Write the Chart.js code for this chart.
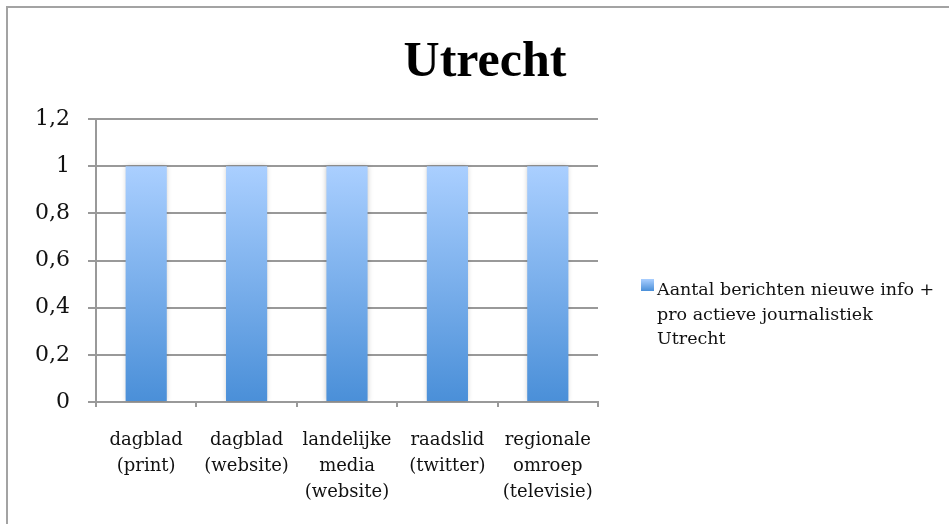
<!DOCTYPE html>
<html>
<head>
<meta charset="utf-8">
<script src="https://cdn.jsdelivr.net/npm/chart.js@4/dist/chart.umd.min.js"></script>
<style>
  html, body { margin: 0; padding: 0; background: #fff; }
  #wrap { width: 949px; height: 524px; position: relative; }
</style>
</head>
<body>
<div id="wrap"><canvas id="c" width="949" height="524"></canvas></div>
<script>
const chartTitle = 'Utrecht';
const categories = [
  ['dagblad', '(print)'],
  ['dagblad', '(website)'],
  ['landelijke', 'media', '(website)'],
  ['raadslid', '(twitter)'],
  ['regionale', 'omroep', '(televisie)']
];
const seriesName = 'Aantal berichten nieuwe info + pro actieve journalistiek Utrecht';
const seriesLegendLines = ['Aantal berichten nieuwe info +', 'pro actieve journalistiek', 'Utrecht'];
const seriesValues = [1, 1, 1, 1, 1];
const yMin = 0, yMax = 1.2, yStep = 0.2;

const SERIF = '"DejaVu Serif", "Liberation Serif", serif';
const TITLE_FONT = 'bold 50px "Liberation Serif", serif';
const GRID = '#999999';
const TOP_COL = '#aacfff';
const BOT_COL = '#4a8fd8';

const decor = {
  id: 'decor',
  beforeDraw(chart) {
    const ctx = chart.ctx;
    ctx.save();
    ctx.fillStyle = '#fff';
    ctx.fillRect(0, 0, chart.width, chart.height);
    ctx.strokeStyle = '#a3a3a3';
    ctx.lineWidth = 2;
    ctx.beginPath();
    ctx.moveTo(7, chart.height);
    ctx.lineTo(7, 7);
    ctx.lineTo(chart.width, 7);
    ctx.stroke();
    ctx.restore();
  },
  beforeDatasetsDraw(chart) {
    chart.ctx.save();
    chart.ctx.shadowColor = 'rgba(0,0,0,0.22)';
    chart.ctx.shadowBlur = 5;
  },
  afterDatasetsDraw(chart) {
    chart.ctx.restore();
  },
  afterDraw(chart) {
    const ctx = chart.ctx;
    ctx.save();
    // title
    ctx.font = TITLE_FONT;
    ctx.fillStyle = '#000';
    ctx.textAlign = 'center';
    ctx.textBaseline = 'alphabetic';
    ctx.fillText(chartTitle, 485, 76);
    // legend
    const bx = 641, by = 279, bw = 13, bh = 12;
    const g = ctx.createLinearGradient(0, by, 0, by + bh);
    g.addColorStop(0, TOP_COL);
    g.addColorStop(1, BOT_COL);
    ctx.fillStyle = g;
    ctx.fillRect(bx, by, bw, bh);
    ctx.font = '17.5px ' + SERIF;
    ctx.fillStyle = '#111';
    ctx.textAlign = 'left';
    seriesLegendLines.forEach((t, i) => ctx.fillText(t, 657, 295 + i * 24.5));
    ctx.restore();
  }
};

new Chart(document.getElementById('c'), {
  type: 'bar',
  data: {
    labels: categories,
    datasets: [{
      label: seriesName,
      data: seriesValues,
      backgroundColor(context) {
        const chart = context.chart;
        const y = chart.scales.y;
        if (!y || !chart.chartArea) return BOT_COL;
        const top = y.getPixelForValue(context.raw || 1);
        const bot = y.getPixelForValue(0);
        const g = chart.ctx.createLinearGradient(0, top, 0, bot);
        g.addColorStop(0, TOP_COL);
        g.addColorStop(1, BOT_COL);
        return g;
      },
      borderWidth: 0,
      categoryPercentage: 1,
      barPercentage: 0.41
    }]
  },
  options: {
    responsive: false,
    animation: false,
    layout: { padding: { left: 0, right: 351, top: 119, bottom: 0 } },
    plugins: {
      legend: { display: false },
      title: { display: false },
      tooltip: { enabled: false }
    },
    scales: {
      x: {
        afterFit(axis) { axis.height = 122; },
        grid: { drawOnChartArea: false, drawTicks: true, tickLength: 5, color: GRID, lineWidth: 2 },
        border: { color: GRID, width: 2 },
        ticks: {
          color: '#111',
          font: { family: SERIF, size: 18, lineHeight: 1.42 },
          padding: 21,
          maxRotation: 0,
          autoSkip: false
        }
      },
      y: {
        min: yMin,
        max: yMax,
        afterFit(axis) { axis.width = 96; },
        grid: { color: GRID, lineWidth: 2, drawTicks: true, tickLength: 8 },
        border: { color: GRID, width: 2 },
        ticks: {
          stepSize: yStep,
          color: '#111',
          padding: 18,
          font: { family: SERIF, size: 22 },
          callback(v) { return String(Math.round(v * 10) / 10).replace('.', ','); }
        }
      }
    }
  },
  plugins: [decor]
});
</script>
</body>
</html>
